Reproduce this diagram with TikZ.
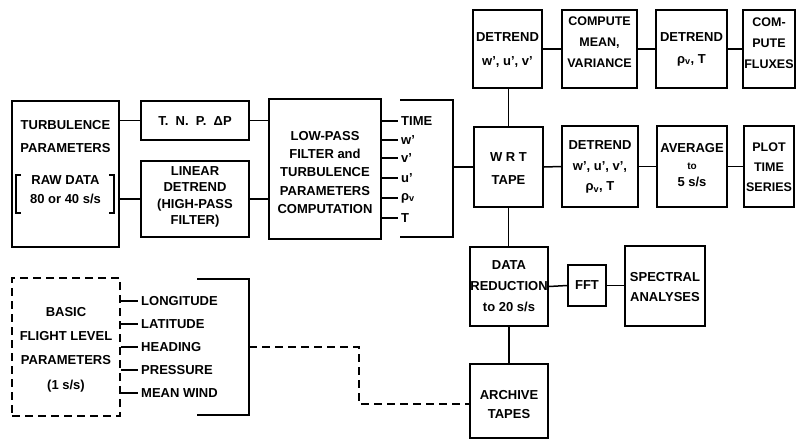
\documentclass[tikz,border=0pt]{standalone}
\usepackage{fontspec}
\setmainfont{Liberation Sans}
\newcommand\myfs[1]{\fontsize{13}{#1}\selectfont}
\begin{document}
\begin{tikzpicture}[x=1pt,y=-1pt,
  box/.style={draw,line width=1.9pt,inner sep=0pt},
  dbox/.style={draw,line width=1.9pt,inner sep=0pt,dash pattern=on 8pt off 5pt},
  txt/.style={font=\bfseries\myfs{20}, align=center, inner sep=0pt},
  lab/.style={font=\bfseries\myfs{15}, anchor=west, inner xsep=3pt, inner ysep=0pt},
  conn/.style={line width=1.5pt},
  dconn/.style={line width=1.7pt,dash pattern=on 8pt off 5pt}]
\useasboundingbox (0,0) rectangle (799,444);
% ---- boxes
\node[box,minimum width=107,minimum height=146] (turb) at (65.5,174) {};
\node[box,minimum width=108,minimum height=39] (tnp) at (195,120.5) {};
\node[box,minimum width=108,minimum height=76] (lin) at (195,199) {};
\node[box,minimum width=112,minimum height=140] (low) at (325,169) {};
\node[box,minimum width=69,minimum height=80] (wrt) at (508.5,167) {};
\node[box,minimum width=69,minimum height=78] (det1) at (507.5,49) {};
\node[box,minimum width=75,minimum height=78] (cmv) at (599.5,49) {};
\node[box,minimum width=71,minimum height=78] (det2) at (691.5,49) {};
\node[box,minimum width=52,minimum height=78] (flux) at (769,49) {};
\node[box,minimum width=76,minimum height=81] (det3) at (600,166.5) {};
\node[box,minimum width=70,minimum height=81] (avg) at (692,166.5) {};
\node[box,minimum width=50,minimum height=81] (plot) at (769,166.5) {};
\node[box,minimum width=78,minimum height=79] (dred) at (509,286.5) {};
\node[box,minimum width=38,minimum height=41] (fft) at (587,285.5) {};
\node[box,minimum width=80,minimum height=80] (spec) at (665,286) {};
\node[box,minimum width=78,minimum height=74] (arch) at (509,401) {};
\node[dbox,minimum width=108,minimum height=138] (basic) at (66,347) {};
% ---- texts
\node[txt,font=\bfseries\myfs{23}] (t1) at (65.5,136.5) {TURBULENCE\\PARAMETERS};
\node[txt,font=\bfseries\myfs{19}] (t2) at (65.5,190) {RAW DATA\\80 or 40 s/s};
\draw[conn] (21,175) -- (16,175) -- (16,213) -- (21,213);
\draw[conn] (109,175) -- (114,175) -- (114,213) -- (109,213);
\node[txt] (t3) at (195,121) {T.\ \ N.\ \ P.\ \ ΔP};
\node[txt,font=\bfseries\myfs{16.5}] (t4) at (195,197) {LINEAR\\DETREND\\(HIGH-PASS\\FILTER)};
\node[txt,font=\bfseries\myfs{18.3}] (t5) at (325,172.5) {LOW-PASS\\FILTER and\\TURBULENCE\\PARAMETERS\\COMPUTATION};
\node[txt,font=\bfseries\myfs{23}] (t6) at (508.5,169) {W R T\\TAPE};
\node[txt,font=\bfseries\myfs{24}] (t7) at (507.5,50) {DETREND\\w', u', v'};
\node[txt,font=\bfseries\fontsize{12.5}{21}\selectfont] (t8) at (599.5,42.5) {COMPUTE\\MEAN,\\VARIANCE};
\node[txt,font=\bfseries\myfs{22}] (t9) at (691.5,49) {DETREND\\ρ\textsubscript{v}, T};
\node[txt,font=\bfseries\fontsize{12.5}{21}\selectfont] (t10) at (769,43) {COM-\\PUTE\\FLUXES};
\node[txt,font=\bfseries\myfs{20.5}] (t11) at (600,167) {DETREND\\w', u', v',\\ρ\textsubscript{v}, T};
\node[txt,font=\bfseries\myfs{17}] (t12) at (692,165) {AVERAGE\\{\fontsize{10}{12}\selectfont to}\\5 s/s};
\node[txt,font=\bfseries\fontsize{12.5}{20}\selectfont] (t13) at (769,167) {PLOT\\TIME\\SERIES};
\node[txt,font=\bfseries\myfs{21}] (t14) at (509,286) {DATA\\REDUCTION\\to 20 s/s};
\node[txt] (t15) at (587,285.5) {FFT};
\node[txt,font=\bfseries\myfs{20}] (t16) at (665,287) {SPECTRAL\\ANALYSES};
\node[txt,font=\bfseries\myfs{19}] (t17) at (509,404.5) {ARCHIVE\\TAPES};
\node[txt,font=\bfseries\myfs{24.3}] (t18) at (66,349.5) {BASIC\\FLIGHT LEVEL\\PARAMETERS\\(1 s/s)};
% ---- output labels of low-pass box
\node[lab] (o1) at (398,121) {TIME};
\node[lab] (o2) at (398,140) {w'};
\node[lab] (o3) at (398,158) {v'};
\node[lab] (o4) at (398,178) {u'};
\node[lab] (o5) at (398,198) {ρ\textsubscript{v}};
\node[lab] (o6) at (398,218) {T};
\foreach \o in {o1,o2,o3,o4,o5,o6} \draw[conn] (low.east |- \o.west) -- (\o.west);
\coordinate (b1a) at (400,100); \coordinate (b1b) at (453,100);
\coordinate (b1c) at (453,237); \coordinate (b1d) at (400,237);
\coordinate (b1m) at (453,167);
\draw[conn] (b1a) -- (b1b) -- (b1c) -- (b1d);
\draw[conn] (b1m) -- (wrt.west |- b1m);
% ---- flight level labels
\node[lab] (f1) at (138,301) {LONGITUDE};
\node[lab] (f2) at (138,324) {LATITUDE};
\node[lab] (f3) at (138,347) {HEADING};
\node[lab] (f4) at (138,370) {PRESSURE};
\node[lab] (f5) at (138,393) {MEAN WIND};
\foreach \f in {f1,f2,f3,f4,f5} \draw[conn] (basic.east |- \f.west) -- (\f.west);
\coordinate (b2a) at (197,279); \coordinate (b2b) at (249,279);
\coordinate (b2c) at (249,415); \coordinate (b2d) at (197,415);
\coordinate (b2m) at (249,347);
\draw[conn] (b2a) -- (b2b) -- (b2c) -- (b2d);
\coordinate (k1) at (359,347); \coordinate (k2) at (359,404);
\draw[dconn] (b2m) -- (k1) -- (k2) -- (arch.west |- k2);
% ---- connectors
\draw[conn] (tnp.west -| turb.east) -- (tnp.west);
\draw[conn] (lin.west -| turb.east) -- (lin.west);
\draw[conn] (tnp.east) -- (tnp.east -| low.west);
\draw[conn] (lin.east) -- (lin.east -| low.west);
\draw[conn] (wrt.north) -- (wrt.north |- det1.south);
\draw[conn] (det1.east) -- (cmv.west);
\draw[conn] (cmv.east) -- (det2.west);
\draw[conn] (det2.east) -- (flux.west);
\draw[conn] (wrt.east) -- (det3.west);
\draw[conn] (det3.east) -- (avg.west);
\draw[conn] (avg.east) -- (plot.west);
\draw[conn] (wrt.south) -- (wrt.south |- dred.north);
\draw[conn] (dred.east) -- (fft.west);
\draw[conn] (fft.east) -- (fft.east -| spec.west);
\draw[conn] (dred.south) -- (arch.north);
\end{tikzpicture}
\end{document}
